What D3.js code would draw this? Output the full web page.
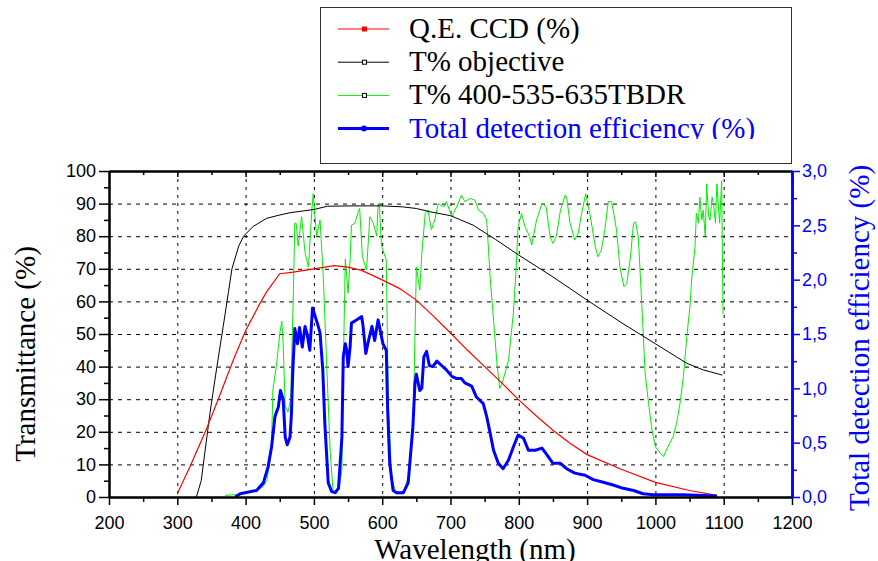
<!DOCTYPE html>
<html>
<head>
<meta charset="utf-8">
<script src="https://cdn.jsdelivr.net/npm/d3@7"></script>
<style>
  body { margin: 0; background: #fff; }
  svg { display: block; }
</style>
</head>
<body>
<svg id="chart"></svg>
<script>
// wavelength (nm), value (%)
const qeCcd = [[300,1],[320,10],[343,21],[360,30],[382,42],[400,51],[420,59],[431,63],[450,68.5],[470,69],[500,70],[530,71],[550,70.5],[570,69.5],[600,66.6],[625,64],[650,60.4],[675,55.5],[700,50.3],[725,45],[750,40],[775,35],[800,29.8],[825,25],[850,20.5],[875,16.5],[900,13],[950,8.5],[1000,4.5],[1050,2],[1090,0.5]]

const objective = [[328,0],[335,5],[348,26],[358,40],[367,52],[375,63],[380,70],[390,77],[397,80],[411,83],[431,85.5],[450,86.5],[465,87.2],[500,88.2],[520,89.2],[560,89.3],[600,89.3],[630,89],[650,88.5],[670,87.5],[700,86.3],[733,83.4],[766,79],[800,74.2],[850,67.5],[900,60.4],[950,53.5],[1000,47],[1046,41],[1070,39],[1098,37.4]]

const filterTbdr = [[370,0.5],[390,0.8],[402,1.6],[416,2],[425,3],[431,5],[435,10],[438,16.5],[440,33],[445,40],[450,50],[453,54],[455,47],[458,28],[462,26],[466,30],[470,63],[472,84],[474,84],[477,77],[482,86],[487,75],[492,70.6],[497,88],[499,93],[504,80],[509,85],[514,66.6],[519,39],[524,13.4],[528,2],[533,1],[538,4],[541,8.3],[543,39],[546,73],[550,62.5],[553,72.7],[555,83.4],[560,84],[565,87.5],[567,88.5],[571,73.7],[577,69.6],[582,86],[587,84],[592,80],[594,90],[596,89],[599,77],[606,72.7],[609,28.7],[614,5.2],[621,1],[631,1],[641,8.3],[646,28.7],[650,70.6],[655,63.5],[658,74.7],[663,87],[667,88],[672,82],[677,85],[682,90],[690,89],[694,90.6],[702,86],[709,89],[716,92.6],[721,90.6],[729,91.6],[736,91],[741,88],[748,87],[753,85],[758,67.6],[763,54.3],[768,41],[772,33.3],[777,35.9],[785,42],[792,56.3],[796,69.6],[799,83],[804,87],[809,83],[816,79.8],[819,77.3],[826,85],[834,90],[840,89],[846,79.8],[850,77.8],[855,80],[861,88],[868,92.6],[870,92],[875,84],[882,78.8],[887,80.9],[892,87],[898,93],[904,87],[912,76.8],[916,73.7],[921,75.8],[926,82],[931,90.6],[936,90.6],[943,82],[948,70.6],[954,64.5],[958,65.5],[963,72.7],[968,84],[971,84.4],[975,79.8],[980,59.4],[985,38],[990,28.7],[995,20.6],[1000,15.4],[1007,13.4],[1012,12.4],[1016,14.4],[1021,16.5],[1026,18.5],[1031,22.6],[1036,28.7],[1041,36.9],[1046,49.2],[1051,59.4],[1053,66.6],[1058,76.8],[1060,87],[1063,84],[1065,92],[1068,85],[1070,88],[1073,80],[1075,96],[1078,86],[1080,85],[1083,92],[1085,90],[1088,84],[1090,96],[1094,84],[1097,97],[1099,56]]

// right axis, %
const totalEff = [[385,0],[392,0.03],[416,0.06],[426,0.13],[433,0.28],[438,0.46],[443,0.74],[448,0.83],[451,0.98],[455,0.9],[458,0.55],[461,0.48],[465,0.55],[467,0.75],[469,1.14],[472,1.55],[476,1.41],[479,1.56],[483,1.38],[487,1.57],[490,1.5],[494,1.35],[498,1.74],[502,1.66],[505,1.6],[509,1.51],[513,1.17],[516,0.68],[521,0.13],[526,0.05],[531,0.04],[536,0.08],[541,0.55],[543,1.29],[546,1.41],[548,1.35],[550,1.2],[553,1.38],[555,1.6],[560,1.62],[565,1.64],[570,1.66],[572,1.57],[576,1.32],[580,1.44],[585,1.57],[589,1.44],[594,1.63],[596,1.57],[601,1.41],[606,1.35],[608,0.8],[611,0.31],[616,0.06],[621,0.04],[631,0.04],[638,0.13],[645,0.65],[648,1.05],[650,1.13],[655,0.98],[658,1.0],[661,1.29],[665,1.34],[669,1.21],[674,1.2],[680,1.25],[687,1.21],[694,1.17],[702,1.11],[709,1.09],[716,1.09],[721,1.05],[731,1.02],[738,0.92],[748,0.86],[753,0.74],[758,0.59],[763,0.43],[770,0.31],[777,0.26],[785,0.34],[792,0.46],[799,0.57],[807,0.54],[814,0.43],[824,0.43],[834,0.45],[841,0.39],[850,0.31],[861,0.31],[870,0.26],[882,0.22],[897,0.2],[909,0.16],[921,0.14],[938,0.11],[953,0.08],[968,0.06],[982,0.03],[997,0.02],[1040,0.02],[1090,0.01]]

const xTicks = d3.range(200, 1201, 100)
const yTicks = d3.range(0, 101, 10)
const yRightTicks = d3.range(0, 3.01, 0.5)

const legendItems = [
    { label: 'Q.E. CCD (%)', color: '#ff0000', text: '#000', width: 1.2, marker: 'fillSquare' },
    { label: 'T% objective', color: '#000', text: '#000', width: 1, marker: 'openSquare' },
    { label: 'T% 400-535-635TBDR', color: '#00ee00', text: '#000', width: 1, marker: 'openSquare' },
    { label: 'Total detection efficiency (%)', color: '#0000ff', text: '#0000ff', width: 3, marker: 'dot' }
]

const W = 878, H = 561
const margin = { top: 171, right: 86, bottom: 64, left: 109 }

const svg = d3.select('#chart').attr('width', W).attr('height', H)

const x = d3.scaleLinear().domain([200, 1200]).range([margin.left, W - margin.right])
const y = d3.scaleLinear().domain([0, 100]).range([H - margin.bottom, margin.top])
const yR = d3.scaleLinear().domain([0, 3]).range([H - margin.bottom, margin.top])

const serif = "'Liberation Serif', 'Times New Roman', serif"
const sans = "'Liberation Sans', Arial, sans-serif"

svg.append('defs').append('clipPath').attr('id', 'plotClip')
    .append('rect')
    .attr('x', margin.left).attr('y', margin.top)
    .attr('width', x(1200) - x(200)).attr('height', y(0) - y(100))

// dashed grid
const grid = svg.append('g').attr('stroke', '#000').attr('stroke-width', 1).attr('stroke-dasharray', '4,5')
grid.selectAll('.gh').data(yTicks.filter(d => d > 0 && d < 100)).join('line')
    .attr('x1', x(200)).attr('x2', x(1200))
    .attr('y1', d => y(d) + 0.5).attr('y2', d => y(d) + 0.5)
grid.selectAll('.gv').data(xTicks.filter(d => d > 200 && d < 1200)).join('line')
    .attr('y1', y(100)).attr('y2', y(0))
    .attr('x1', d => x(d) + 0.5).attr('x2', d => x(d) + 0.5)
    .attr('stroke-dasharray', '3,5')

// curves
const lineL = d3.line().x(d => x(d[0])).y(d => y(d[1]))
const lineR = d3.line().x(d => x(d[0])).y(d => yR(d[1]))
const curves = svg.append('g').attr('clip-path', 'url(#plotClip)').attr('fill', 'none')
curves.append('path').datum(filterTbdr).attr('d', lineL).attr('stroke', '#00ee00').attr('stroke-width', 1)
curves.append('path').datum(objective).attr('d', lineL).attr('stroke', '#000').attr('stroke-width', 1)
curves.append('path').datum(qeCcd).attr('d', lineL).attr('stroke', '#ff0000').attr('stroke-width', 1.2)
curves.append('path').datum(totalEff).attr('d', lineR).attr('stroke', '#0000ff').attr('stroke-width', 3)
    .attr('stroke-linejoin', 'round')

// axes
function styleAxis(g, color, width) {
    g.attr('font-family', sans).attr('font-size', 18)
    g.select('.domain').attr('stroke', color).attr('stroke-width', width)
    g.selectAll('.tick line').attr('stroke', color).attr('stroke-width', 1.5)
    g.selectAll('.tick text').attr('fill', color)
}

const minorX = d3.range(250, 1200, 100)
const minorY = d3.range(5, 100, 10)
const minorR = d3.range(0.25, 3, 0.5)

svg.append('g').attr('transform', `translate(0,${y(100)})`)
    .call(d3.axisBottom(x).tickValues(minorX).tickSize(4).tickFormat('').tickSizeOuter(0))
    .call(g => styleAxis(g, '#000', 2))
svg.append('g').attr('transform', `translate(0,${y(100)})`)
    .call(d3.axisBottom(x).tickValues(xTicks).tickSize(6).tickFormat('').tickSizeOuter(0))
    .call(g => styleAxis(g, '#000', 2))

svg.append('g').attr('transform', `translate(0,${y(0)})`)
    .call(d3.axisBottom(x).tickValues(minorX).tickSize(5).tickFormat('').tickSizeOuter(0))
    .call(g => styleAxis(g, '#000', 2))
svg.append('g').attr('transform', `translate(0,${y(0)})`)
    .call(d3.axisBottom(x).tickValues(xTicks).tickSize(8).tickPadding(11).tickFormat(d3.format('d')).tickSizeOuter(0))
    .call(g => styleAxis(g, '#000', 2))

svg.append('g').attr('transform', `translate(${x(200)},0)`)
    .call(d3.axisLeft(y).tickValues(minorY).tickSize(5).tickFormat('').tickSizeOuter(0))
    .call(g => styleAxis(g, '#000', 2))
svg.append('g').attr('transform', `translate(${x(200)},0)`)
    .call(d3.axisLeft(y).tickValues(yTicks).tickSize(10).tickPadding(3).tickFormat(d3.format('d')).tickSizeOuter(0))
    .call(g => styleAxis(g, '#000', 2))

const commaFmt = d => d3.format('.1f')(d).replace('.', ',')
svg.append('g').attr('transform', `translate(${x(1200)},0)`)
    .call(d3.axisRight(yR).tickValues(minorR).tickSize(5).tickFormat('').tickSizeOuter(0))
    .call(g => styleAxis(g, '#0000ff', 2.5))
svg.append('g').attr('transform', `translate(${x(1200)},0)`)
    .call(d3.axisRight(yR).tickValues(yRightTicks).tickSize(8).tickPadding(2).tickFormat(commaFmt).tickSizeOuter(0))
    .call(g => styleAxis(g, '#0000ff', 2.5))

// axis titles
svg.append('text').attr('transform', 'translate(35,354) rotate(-90)')
    .attr('text-anchor', 'middle').attr('font-family', serif).attr('font-size', 29)
    .text('Transmittance (%)')
svg.append('text').attr('transform', 'translate(869,338) rotate(-90)')
    .attr('text-anchor', 'middle').attr('font-family', serif).attr('font-size', 29)
    .attr('fill', '#0000ff')
    .text('Total detection efficiency (%)')
svg.append('text').attr('x', 475).attr('y', 559)
    .attr('text-anchor', 'middle').attr('font-family', serif).attr('font-size', 29)
    .text('Wavelength (nm)')

// legend
const legend = svg.append('g')
legend.append('rect').attr('x', 320.5).attr('y', 7.5).attr('width', 471).attr('height', 156)
    .attr('fill', '#fff').attr('stroke', '#333').attr('stroke-width', 1)

svg.select('defs').append('clipPath').attr('id', 'legendClip')
    .append('rect').attr('x', 320).attr('y', 8).attr('width', 470).attr('height', 131)

const rows = legend.append('g').attr('clip-path', 'url(#legendClip)')
    .selectAll('g').data(legendItems).join('g')
    .attr('transform', (d, i) => `translate(0,${29 + i * 33.2})`)

rows.append('line').attr('x1', 338).attr('x2', 389)
    .attr('stroke', d => d.color).attr('stroke-width', d => d.width)
rows.filter(d => d.marker === 'fillSquare').append('rect')
    .attr('x', 362).attr('y', -2.5).attr('width', 5).attr('height', 5).attr('fill', '#ff0000')
rows.filter(d => d.marker === 'openSquare').append('rect')
    .attr('x', 362.5).attr('y', -2).attr('width', 4).attr('height', 4)
    .attr('fill', '#fff').attr('stroke', '#000').attr('stroke-width', 1)
rows.filter(d => d.marker === 'dot').append('circle')
    .attr('cx', 364).attr('cy', 0).attr('r', 3).attr('fill', '#0000ff')
rows.append('text').attr('x', 409).attr('y', 9)
    .attr('font-family', serif).attr('font-size', 29)
    .attr('fill', d => d.text)
    .text(d => d.label)
</script>
</body>
</html>
